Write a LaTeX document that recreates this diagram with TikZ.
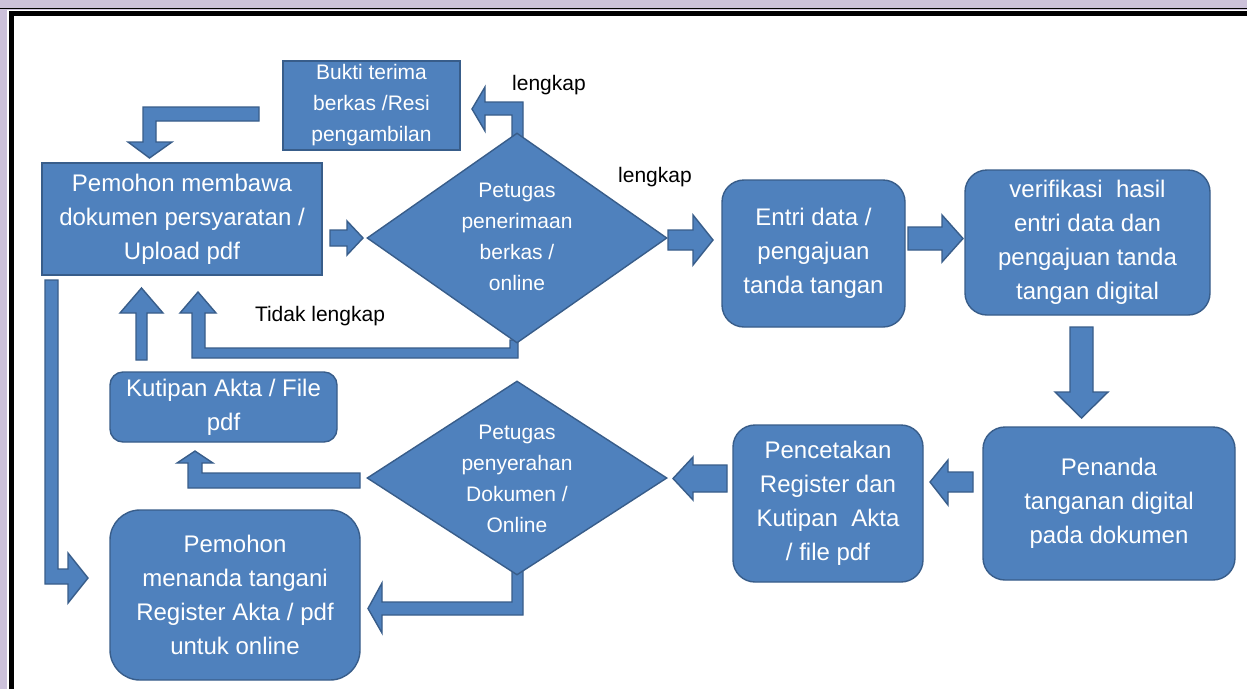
\documentclass[tikz,border=0pt]{standalone}
\usepackage{fontspec}
\setmainfont{Liberation Sans}
\usetikzlibrary{shapes.geometric}
\definecolor{lav}{HTML}{CCC1DA}
\definecolor{blu}{HTML}{4F81BD}
\definecolor{bdr}{HTML}{385D8A}
\tikzset{
  shapebase/.style={draw=bdr, fill=blu, line width=1.4pt, text=white, align=center, inner sep=0pt},
  sqbox/.style={shapebase, font=\fontsize{24}{34}\selectfont},
  smallbox/.style={shapebase, font=\fontsize{21}{31}\selectfont},
  rbox/.style={shapebase, rounded corners=22pt, font=\fontsize{24}{34}\selectfont},
  dia/.style={shapebase, shape=diamond, minimum width=300pt},
  dtext/.style={text=white, align=center, inner sep=0pt, font=\fontsize{21}{31}\selectfont},
  lbl/.style={text=black, inner sep=0pt, font=\fontsize{21}{25}\selectfont},
  barrow/.style={draw=bdr, fill=blu, line width=1.4pt, line join=miter}
}
\begin{document}
\begin{tikzpicture}[x=1pt, y=-1pt]
\useasboundingbox (0,0) rectangle (1247,689);
% frame
\fill[lav] (0,0) rectangle (1247,689);
\fill[white] (7,10) rectangle (1247,689);
\draw[line width=1.3pt] (0,8.5) -- (1247,8.5);
\draw[line width=5pt] (11.5,689) -- (11.5,13.5) -- (1247,13.5);

% block arrows (drawn first)
% B -> A
\draw[barrow] (259,107) -- (143,107) -- (143,142) -- (128,142) -- (149.5,158) -- (172,142) -- (156,142) -- (156,121) -- (259,121) -- cycle;
% A -> D1
\draw[barrow] (330,230) -- (347,230) -- (347,221) -- (363,238) -- (347,255) -- (347,246) -- (330,246) -- cycle;
% D1 -> B (lengkap)
\draw[barrow] (523,140) -- (523,102) -- (485,102) -- (485,87) -- (472,109) -- (485,131) -- (485,115) -- (512,115) -- (512,140) -- cycle;
% D1 -> C
\draw[barrow] (668,230) -- (693,230) -- (693,215) -- (713,240) -- (693,265) -- (693,250) -- (668,250) -- cycle;
% C -> E
\draw[barrow] (908,227) -- (942,227) -- (942,215) -- (963,238.5) -- (942,262) -- (942,250) -- (908,250) -- cycle;
% E -> F
\draw[barrow] (1070,327) -- (1093,327) -- (1093,392) -- (1108,392) -- (1081.5,418) -- (1055,392) -- (1070,392) -- cycle;
% F -> G
\draw[barrow] (973,472) -- (948,472) -- (948,460) -- (930,482) -- (948,505) -- (948,492) -- (973,492) -- cycle;
% G -> D2
\draw[barrow] (727,465) -- (693,465) -- (693,457) -- (673,478.5) -- (693,500) -- (693,492) -- (727,492) -- cycle;
% D2 -> K
\draw[barrow] (360,473) -- (202,473) -- (202,463) -- (213,463) -- (195,451) -- (177,463) -- (188,463) -- (188,488) -- (360,488) -- cycle;
% D2 -> P
\draw[barrow] (512,570) -- (512,602) -- (382,602) -- (382,583) -- (368,608.5) -- (382,633) -- (382,615) -- (523,615) -- (523,570) -- cycle;
% K -> A
\draw[barrow] (136,360) -- (136,313) -- (120,313) -- (141.5,288) -- (163,313) -- (147,313) -- (147,360) -- cycle;
% D1 -> A (Tidak lengkap)
\draw[barrow] (518,340) -- (518,358) -- (192,358) -- (192,313) -- (180,313) -- (198,292) -- (216,313) -- (205,313) -- (205,348) -- (510,348) -- (510,340) -- cycle;
% A -> P (long left)
\draw[barrow] (45,280) -- (45,584) -- (68,584) -- (68,603) -- (88,578) -- (68,553) -- (68,569) -- (58,569) -- (58,280) -- cycle;

% nodes
\node[sqbox, minimum width=280pt, minimum height=112pt] (A) at (182,219)
  {Pemohon membawa\\dokumen persyaratan /\\Upload pdf};
\node[smallbox, minimum width=177pt, minimum height=89pt] (B) at (371.5,105.5)
  {Bukti terima\\berkas /Resi\\pengambilan};
\node[dia, minimum height=210pt] (D1) at (517,238) {};
\node[dtext] (D1t) at (517,237) {Petugas\\penerimaan\\berkas /\\online};
\node[rbox, minimum width=183pt, minimum height=147pt] (C) at (813.5,253.5)
  {Entri data /\\pengajuan\\tanda tangan};
\node[rbox, minimum width=245pt, minimum height=145pt] (E) at (1087.5,242.5)
  {verifikasi\ \ hasil\\entri data dan\\pengajuan tanda\\tangan digital};
\node[rbox, minimum width=252pt, minimum height=153pt] (F) at (1109,503.5)
  {Penanda\\tanganan digital\\pada dokumen};
\node[rbox, minimum width=190pt, minimum height=157pt] (G) at (828,503.5)
  {Pencetakan\\Register dan\\Kutipan\ \ Akta\\/ file pdf};
\node[dia, minimum height=194pt] (D2) at (517,478) {};
\node[dtext] (D2t) at (517,479) {Petugas\\penyerahan\\Dokumen /\\Online};
\node[rbox, rounded corners=13pt, minimum width=227pt, minimum height=70pt] (K) at (223.5,407)
  {Kutipan Akta / File\\pdf};
\node[rbox, rounded corners=30pt, minimum width=250pt, minimum height=170pt] (P) at (235,595)
  {Pemohon\\menanda tangani\\Register Akta / pdf\\untuk online};

% labels
\node[lbl] (L1) at (549,85) {lengkap};
\node[lbl] (L2) at (655,177) {lengkap};
\node[lbl] (L3) at (320,316) {Tidak lengkap};
\end{tikzpicture}
\end{document}
